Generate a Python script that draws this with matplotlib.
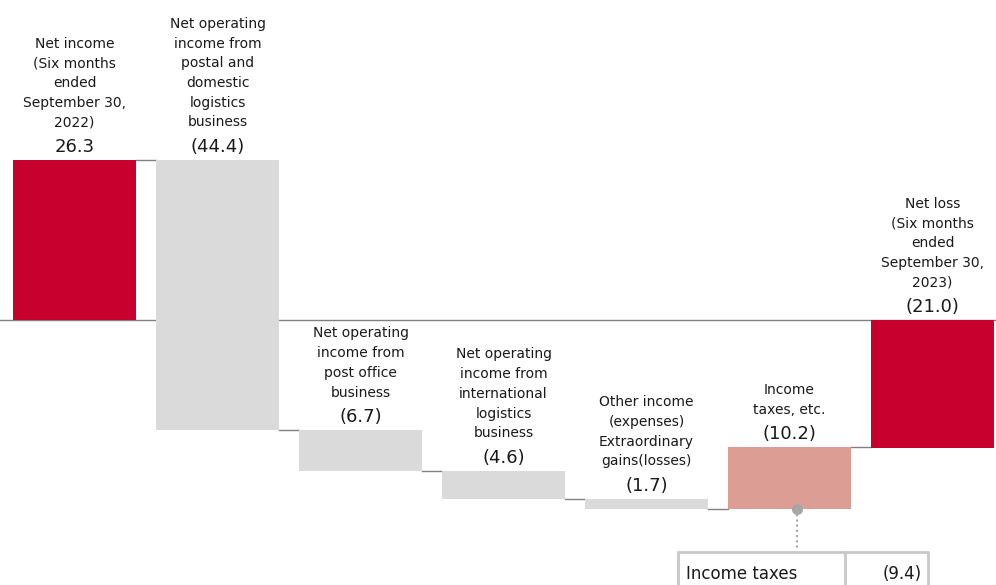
import matplotlib.pyplot as plt
from matplotlib.patches import Rectangle

# Bridge from last year's net income to this year's net loss (billions of yen)
categories = [
    "Net income\n(Six months\nended\nSeptember 30,\n2022)",
    "Net operating\nincome from\npostal and\ndomestic\nlogistics\nbusiness",
    "Net operating\nincome from\npost office\nbusiness",
    "Net operating\nincome from\ninternational\nlogistics\nbusiness",
    "Other income\n(expenses)\nExtraordinary\ngains(losses)",
    "Income\ntaxes, etc.",
    "Net loss\n(Six months\nended\nSeptember 30,\n2023)",
]
steps = [26.3, -44.4, -6.7, -4.6, -1.7, 10.2]
net_loss = -21.0
shown_negative = [False, True, True, True, True, True, True]
bar_colors = ['#C8002D', '#DADADA', '#DADADA', '#DADADA', '#DADADA', '#DC9E94', '#C8002D']

detail_label = "Income taxes"
detail_value = 9.4

# bottoms / heights for the floating bars
bottoms, heights = [], []
running = 0.0
for s in steps:
    bottoms.append(running if s >= 0 else running + s)
    heights.append(abs(s))
    running += s
bottoms.append(net_loss)
heights.append(abs(net_loss))
amounts = [abs(s) for s in steps] + [abs(net_loss)]

fig = plt.figure(figsize=(9.96, 5.85), dpi=100)
ax = fig.add_axes([0, 0, 1, 1])
ax.set_xlim(-0.521, 6.444)
ax.set_ylim(-43.56, 52.6)
ax.axis('off')

width = 0.86
xs = list(range(len(categories)))

ax.axhline(0, color='#808080', linewidth=1, zorder=1)
ax.bar(xs, heights, bottom=bottoms, width=width, color=bar_colors, zorder=2)

# connectors between consecutive bars
level = 0.0
for i, s in enumerate(steps):
    level += s
    ax.plot([i + width / 2, i + 1 - width / 2], [level, level],
            color='#808080', linewidth=1, zorder=1)

for i, x in enumerate(xs):
    top = bottoms[i] + heights[i]
    txt = f"{amounts[i]:.1f}"
    if shown_negative[i]:
        txt = f"({txt})"
    ax.annotate(txt, (x, top), xytext=(0, 3), textcoords='offset points',
                ha='center', va='bottom', fontsize=13, color='#1a1a1a')
    ax.annotate(categories[i], (x, top), xytext=(0, 22), textcoords='offset points',
                ha='center', va='bottom', fontsize=10, color='#1a1a1a',
                linespacing=1.52)

# breakdown box for income taxes
tax_bottom = bottoms[5]
ax.plot([5.052, 5.052], [tax_bottom, -37.4], color='#A6A6A6', linewidth=1.5,
        linestyle=(0, (1, 1.5)), zorder=3)
ax.plot([5.052], [tax_bottom], marker='o', markersize=8, color='#A6A6A6',
        markeredgewidth=0, zorder=4)
ax.add_patch(Rectangle((4.220, -46), 5.969 - 4.220, 46 - 38.13, fill=False,
                       edgecolor='#C8C8C8', linewidth=2, zorder=3))
ax.plot([5.388, 5.388], [-38.13, -46], color='#C8C8C8', linewidth=2, zorder=3)
ax.text(4.275, -41.8, detail_label, ha='left', va='center', fontsize=12, color='#1a1a1a')
ax.text(5.925, -41.8, f"({detail_value:.1f})", ha='right', va='center',
        fontsize=12, color='#1a1a1a')

fig.savefig('out.png', dpi=100, facecolor='white')
